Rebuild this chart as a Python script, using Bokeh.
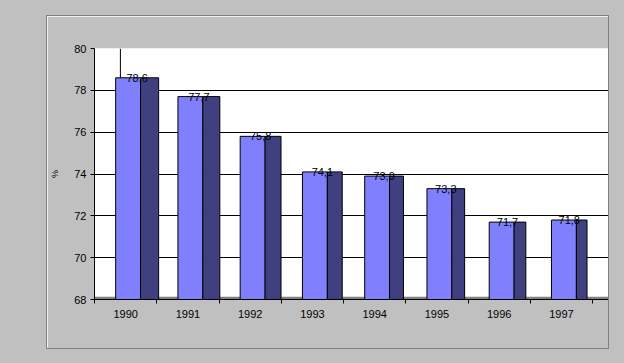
from bokeh.plotting import figure
from bokeh.models import FixedTicker, Span
from bokeh.core.properties import value
from bokeh.embed import file_html
from bokeh.resources import INLINE

# ---- data ----
years = ["1990", "1991", "1992", "1993", "1994", "1995", "1996", "1997"]
rates = [78.6, 77.7, 75.8, 74.1, 73.9, 73.3, 71.7, 71.8]
y_ticks = [68, 70, 72, 74, 76, 78, 80]
y_min, y_max = 68, 80

n = len(years)
idx = list(range(n))
front_left = [i + 0.34 for i in idx]
front_right = [i + 0.74 for i in idx]
side_right = [i + 0.74 + 0.29 - 0.017 * i for i in idx]
labels = [f"{v:.1f}".replace(".", ",") for v in rates]
label_x = [(a + b) / 2 for a, b in zip(front_left, side_right)]
x_end = n + 0.256

FONT = "Liberation Sans"

p = figure(width=561, height=332, x_range=(0, x_end), y_range=(y_min, y_max),
           output_backend="svg", toolbar_location=None,
           min_border_left=45, min_border_right=0, min_border_top=32, min_border_bottom=49)
p.background_fill_color = "white"
p.border_fill_color = "#c0c0c0"
p.outline_line_color = None
p.styles = {
    "margin-left": "47px",
    "margin-top": "16px",
    "outline": "1px solid #808080",
    "box-shadow": "0 0 0 1200px #c0c0c0",
}

# grid
p.xgrid.visible = False
p.ygrid.ticker = FixedTicker(ticks=y_ticks)
p.ygrid.grid_line_color = "black"
p.ygrid.grid_line_width = 1

# y axis
p.yaxis.ticker = FixedTicker(ticks=y_ticks)
p.yaxis.axis_line_color = "black"
p.yaxis.major_tick_line_color = "black"
p.yaxis.major_tick_out = 4
p.yaxis.major_tick_in = 0
p.yaxis.minor_tick_line_color = None
p.yaxis.major_label_standoff = 4
p.yaxis.major_label_text_font = FONT
p.yaxis.major_label_text_font_size = "11px"
p.yaxis.major_label_text_color = "black"
p.yaxis.axis_label = "%"
p.yaxis.axis_label_text_font = FONT
p.yaxis.axis_label_text_font_size = "9px"
p.yaxis.axis_label_text_font_style = "normal"
p.yaxis.axis_label_text_color = "black"
p.yaxis.axis_label_standoff = 11

# x axis: labels at category centres, ticks at category boundaries
p.xaxis.ticker = FixedTicker(ticks=[i + 0.5 for i in idx], minor_ticks=list(range(n + 1)))
p.xaxis.major_label_overrides = {i + 0.5: years[i] for i in idx}
p.xaxis.axis_line_color = "black"
p.xaxis.major_tick_line_color = None
p.xaxis.major_tick_out = 4
p.xaxis.major_tick_in = 0
p.xaxis.minor_tick_line_color = "black"
p.xaxis.minor_tick_out = 4
p.xaxis.minor_tick_in = 0
p.xaxis.major_label_standoff = 6
p.xaxis.major_label_text_font = FONT
p.xaxis.major_label_text_font_size = "11px"
p.xaxis.major_label_text_color = "black"

# 3D floor strip and back-wall edge
p.quad(left=0, right=x_end, bottom=y_min, top=y_min + 0.13, fill_color="#808080", line_color=None)
p.add_layout(Span(location=0.416, dimension="height", line_color="black", line_width=1, level="underlay"))

# bars: front faces and side faces
p.quad(left=front_left, right=front_right, bottom=y_min, top=rates,
       fill_color="#8080ff", line_color="black", line_width=1)
p.quad(left=front_right, right=side_right, bottom=y_min, top=rates,
       fill_color="#404080", line_color="black", line_width=1)

# value labels
p.text(x=label_x, y=rates, text=labels, text_align="center", text_baseline="middle",
       text_font=value(FONT), text_font_size="11px", text_color="black")

open("out.html", "w").write(file_html(p, INLINE))
